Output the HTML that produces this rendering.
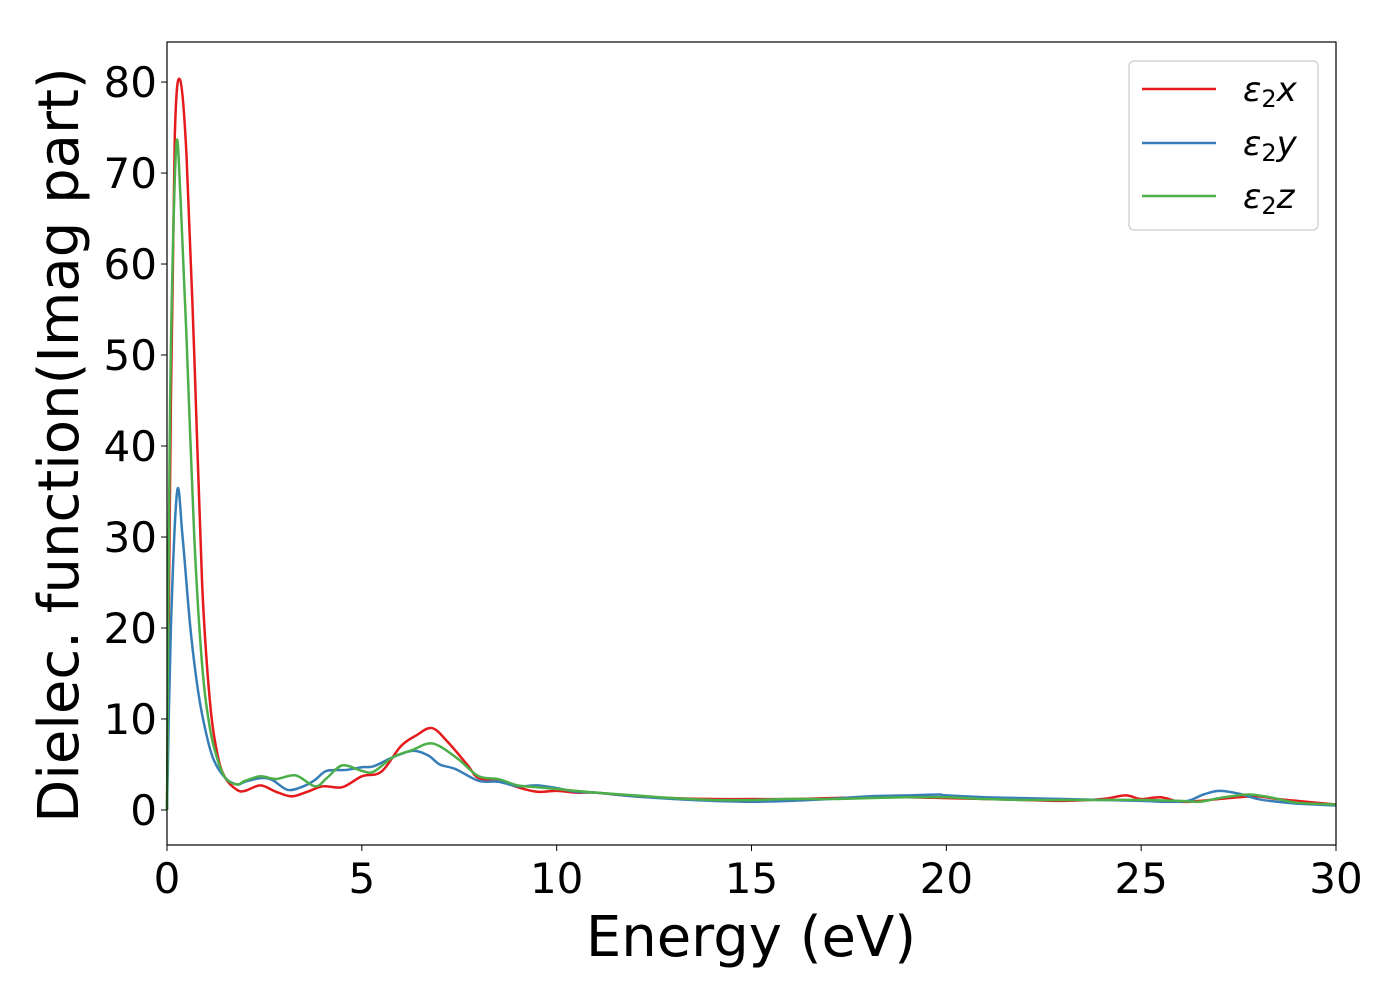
<!DOCTYPE html>
<html><head><meta charset="utf-8"><style>
html,body{margin:0;padding:0;background:#fff;}
svg{display:block;font-family:"DejaVu Sans","Liberation Sans",sans-serif;}
</style></head><body>
<svg id="chart" width="1400" height="1000" viewBox="0 0 1400 1000">
<rect x="0" y="0" width="1400" height="1000" fill="#fff"/>
<g id="plot"></g>
<rect x="167" y="42" width="1169" height="803" fill="none" stroke="#000" stroke-width="1.2"/>
<g id="ticks"></g>
<text x="751" y="956" font-size="56" text-anchor="middle">Energy (eV)</text>
<text transform="translate(78,445) rotate(-90)" font-size="56" text-anchor="middle">Dielec. function(Imag part)</text>
<g>
<rect x="1129" y="61" width="189" height="169" rx="5" fill="#fff" stroke="#ccc" stroke-width="1.2"/>
<line x1="1142" y1="89" x2="1216" y2="89" stroke="#e41a1c" stroke-width="2.5"/>
<line x1="1142" y1="143" x2="1216" y2="143" stroke="#377eb8" stroke-width="2.5"/>
<line x1="1142" y1="196" x2="1216" y2="196" stroke="#4daf4a" stroke-width="2.5"/>
<text x="1243" y="101" font-size="34" font-style="italic">ε<tspan font-style="normal" font-size="24" dy="6">2</tspan><tspan dy="-6">x</tspan></text>
<text x="1243" y="155" font-size="34" font-style="italic">ε<tspan font-style="normal" font-size="24" dy="6">2</tspan><tspan dy="-6">y</tspan></text>
<text x="1243" y="208" font-size="34" font-style="italic">ε<tspan font-style="normal" font-size="24" dy="6">2</tspan><tspan dy="-6">z</tspan></text>
</g>
</svg>
<script>
const xTicks=[0,5,10,15,20,25,30];
const yTicks=[0,10,20,30,40,50,60,70,80];
const eX=[0,0.1,0.2,0.33,0.5,0.7,0.9,1.1,1.3,1.5,1.8,2.0,2.4,2.8,3.2,3.6,4.0,4.5,5.0,5.5,6.0,6.4,6.8,7.2,7.7,8.0,8.5,9,9.5,10,10.5,11,12,13,14,15,16,17,18,19,20,21,22,23,24,24.6,25,25.5,26,26.5,27,27.5,28,28.5,29,30];
const vX=[0,45,74,80.3,72,50,25,12,6,3.5,2.2,2.1,2.7,2.0,1.5,2,2.6,2.5,3.7,4.2,7,8.2,9.0,7.5,5,3.5,3.3,2.5,2.0,2.1,1.9,1.9,1.5,1.3,1.2,1.2,1.2,1.3,1.4,1.4,1.3,1.2,1.1,1.0,1.2,1.6,1.2,1.4,0.9,1.0,1.2,1.4,1.5,1.2,1.0,0.6];
const eY=[0,0.1,0.26,0.4,0.6,0.8,1.0,1.2,1.5,1.8,2.0,2.4,2.7,3.1,3.5,3.8,4.1,4.6,5.0,5.3,5.8,6.3,6.7,7.0,7.4,8.0,8.5,9,9.5,10,10.5,11,12,13,14,15,16,17,18,19,19.8,20,21,22,23,24,25,25.7,26.2,26.6,27,27.5,28,28.5,29,30];
const vY=[0,20,35,30,20,13,8.5,5.5,3.5,2.8,3.1,3.5,3.3,2.2,2.6,3.3,4.3,4.4,4.7,4.8,5.8,6.5,6.0,5.0,4.5,3.2,3.1,2.6,2.7,2.4,2.0,1.9,1.5,1.2,1.0,0.9,1.0,1.2,1.5,1.6,1.7,1.6,1.4,1.3,1.2,1.1,1.0,0.9,1.0,1.7,2.1,1.8,1.2,0.9,0.7,0.5];
const eZ=[0,0.08,0.23,0.35,0.5,0.7,0.9,1.1,1.3,1.5,1.8,2.0,2.4,2.8,3.3,3.8,4.1,4.5,5.0,5.3,5.8,6.3,6.7,7.0,7.5,8.0,8.5,9,9.5,10,11,12,13,14,15,16,17,18,19,20,21,22,23,24,25,26,26.5,27,27.5,27.8,28.3,29,30];
const vZ=[0,45,72.5,67,52,30,16,9,5.5,3.5,2.8,3.2,3.7,3.4,3.8,2.6,3.5,4.9,4.3,4.2,5.8,6.6,7.3,7.0,5.5,3.7,3.4,2.7,2.5,2.3,1.9,1.6,1.3,1.1,1.1,1.2,1.2,1.3,1.4,1.4,1.2,1.1,1.1,1.1,1.1,1.0,0.9,1.3,1.6,1.7,1.4,0.8,0.6];
const X0=167,X1=1336,Y0=845,Y1=42,xMin=0,xMax=30,yMin=-3.85,yMax=84.4;
const sx=v=>X0+(v-xMin)/(xMax-xMin)*(X1-X0);
const sy=v=>Y0-(v-yMin)/(yMax-yMin)*(Y0-Y1);
const NS="http://www.w3.org/2000/svg";
const plot=document.getElementById('plot'),ticks=document.getElementById('ticks');
function path(xs,ys){
  const p=xs.map((x,i)=>[sx(x),sy(ys[i])]);
  let d=`M${p[0][0]},${p[0][1]}`;
  for(let i=0;i<p.length-1;i++){
    const a=p[Math.max(0,i-1)],b=p[i],c=p[i+1],e=p[Math.min(p.length-1,i+2)];
    const c1=[b[0]+(c[0]-a[0])/6,b[1]+(c[1]-a[1])/6],c2=[c[0]-(e[0]-b[0])/6,c[1]-(e[1]-b[1])/6];
    d+=` C${c1[0]},${c1[1]} ${c2[0]},${c2[1]} ${c[0]},${c[1]}`;
  }
  return d;
}
[[eX,vX,'#e41a1c','series-eps2-x'],[eY,vY,'#377eb8','series-eps2-y'],[eZ,vZ,'#4daf4a','series-eps2-z']].forEach(s=>{
  const el=document.createElementNS(NS,'path');
  el.setAttribute('d',path(s[0],s[1]));
  el.setAttribute('fill','none');el.setAttribute('stroke',s[2]);el.setAttribute('stroke-width','2.5');
  
  
  plot.appendChild(el);
});
xTicks.forEach(t=>{
  const l=document.createElementNS(NS,'line');
  l.setAttribute('x1',sx(t));l.setAttribute('x2',sx(t));l.setAttribute('y1',Y0);l.setAttribute('y2',Y0+6);l.setAttribute('stroke','#000');
  
  
  ticks.appendChild(l);
  const tx=document.createElementNS(NS,'text');
  tx.setAttribute('x',sx(t));tx.setAttribute('y',Y0+48);tx.setAttribute('font-size','42');tx.setAttribute('text-anchor','middle');
  tx.textContent=t;
  
  
  ticks.appendChild(tx);
});
yTicks.forEach(t=>{
  const l=document.createElementNS(NS,'line');
  l.setAttribute('x1',X0-6);l.setAttribute('x2',X0);l.setAttribute('y1',sy(t));l.setAttribute('y2',sy(t));l.setAttribute('stroke','#000');
  
  
  ticks.appendChild(l);
  const tx=document.createElementNS(NS,'text');
  tx.setAttribute('x',X0-10);tx.setAttribute('y',sy(t)+15);tx.setAttribute('font-size','42');tx.setAttribute('text-anchor','end');
  tx.textContent=t;
  
  
  ticks.appendChild(tx);
});
</script>
</body></html>
